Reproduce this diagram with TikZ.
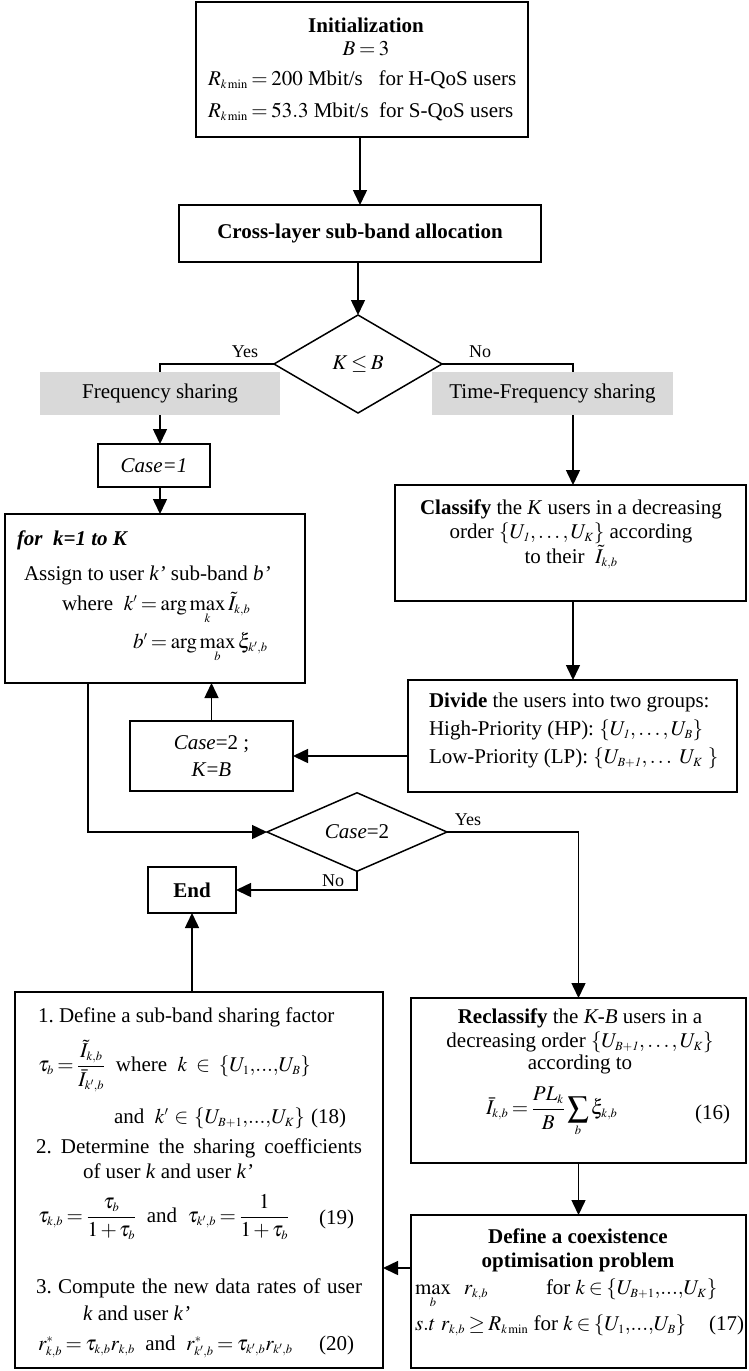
\documentclass[tikz,border=0pt]{standalone}
\usepackage{mathptmx}
\usepackage{fontspec}
\setmainfont{Liberation Serif}
\usetikzlibrary{arrows.meta,shapes.geometric}
\definecolor{greyfill}{HTML}{D9D9D9}
\DeclareMathSizes{21}{21}{12.5}{10}
\thickmuskip=3mu plus 2mu
\medmuskip=2mu plus 1mu
\frenchspacing
\begin{document}
\begin{tikzpicture}[x=1pt,y=-1pt,
  every node/.style={font=\fontsize{21}{25}\selectfont, inner sep=0pt, outer sep=0pt},
  box/.style={draw, line width=1.5pt, rectangle, inner sep=0pt},
  dbox/.style={draw, line width=1.5pt, diamond, inner sep=0pt},
  grey/.style={fill=greyfill, rectangle, inner sep=0pt},
  arr/.style={line width=1.5pt,-{Triangle[length=15pt,width=14pt]}},
  ln/.style={line width=1.5pt},
  lbl/.style={font=\fontsize{18}{21}\selectfont},
]
\useasboundingbox (0,0) rectangle (748,1371);

% ---------- top ----------
\node[box, minimum width=332pt, minimum height=135pt] (init) at (362,69.5) {};
\node[anchor=base] (ti1) at (366,32) {\textbf{Initialization}};
\node[anchor=base] (ti2) at (366,55) {$B = 3$};
\node[anchor=base west] (ti3) at (208,85) {$R_{k\,\mathrm{min}} = 200$ Mbit/s\ \ \ for H-QoS users};
\node[anchor=base west] (ti4) at (208,117) {$R_{k\,\mathrm{min}} = 53.3$ Mbit/s\ \ for S-QoS users};

\node[box, minimum width=362pt, minimum height=57pt] (cross) at (360,233.5) {\textbf{Cross-layer sub-band allocation}};
\draw[arr] (init.south -| cross.north) -- (cross.north);

\node[dbox, minimum width=168pt, minimum height=98pt] (dia1) at (358,364) {$K \le B$};
\draw[arr] (cross.south -| dia1.north) -- (dia1.north);

\node[grey, minimum width=240pt, minimum height=43pt] (fs) at (160,393.5) {Frequency sharing};
\node[grey, minimum width=241pt, minimum height=43pt] (tfs) at (552.5,393.5) {Time-Frequency sharing};
\coordinate (tfsN) at (573,372);
\coordinate (tfsS) at (573,415);
\draw[ln] (dia1.west) -| (fs.north);
\draw[ln] (dia1.east) -| (tfsN);
\node[lbl, anchor=base] (yes1) at (245,357) {Yes};
\node[lbl, anchor=base] (no1) at (480,357) {No};

% ---------- left branch ----------
\node[box, minimum width=112pt, minimum height=43pt] (case1) at (154,465.5) {\textit{Case=1}};
\draw[arr] (fs.south) -- (fs.south |- case1.north);

\node[box, minimum width=300pt, minimum height=169pt] (forb) at (155,598.5) {};
\draw[arr] (case1.south -| fs.south) -- (forb.north -| fs.south);
\node[anchor=base west] (f1) at (17,545) {\textbf{\textit{for\ \ k=1 to K}}};
\node[anchor=base west] (f2) at (24,580) {Assign to user \textit{k’} sub-band \textit{b’}};
\node[anchor=base west] (f3) at (62,610) {where\ \ $k' = \arg\max\limits_k \tilde{I}_{k,b}$};
\node[anchor=base west] (f4) at (133,648) {$b' = \arg\max\limits_b \xi_{k',b}$};

% ---------- right branch ----------
\node[box, minimum width=351pt, minimum height=116pt] (clas) at (570.5,543) {};
\draw[arr] (tfsS) -- (tfsS |- clas.north);
\node[anchor=base] (c1) at (571,514) {\textbf{Classify} the \textit{K} users in a decreasing};
\node[anchor=base] (c2) at (571,538) {order $\{U_{\mathit{1}}, \ldots, U_K\}$ according};
\node[anchor=base] (c3) at (571,563) {to their\ \ $\tilde{I}_{k,b}$};

\node[box, minimum width=329pt, minimum height=112pt] (div) at (572.5,736) {};
\draw[arr] (clas.south -| tfsS) -- (div.north -| tfsS);
\node[anchor=base west] (d1) at (429,707) {\textbf{Divide} the users into two groups:};
\node[anchor=base west] (d2) at (429,735) {High-Priority (HP): $\{U_{\mathit{1}}, \ldots, U_B\}$};
\node[anchor=base west] (d3) at (429,763) {Low-Priority (LP): $\{U_{B+\mathit{1}}, \ldots\ U_K\ \}$};

\node[box, minimum width=163pt, minimum height=70pt, align=center] (case2) at (211.5,756) {\textit{Case}=2 ;\\[2pt]\textit{K}=\textit{B}};
\draw[arr] (case2.north) -- (case2.north |- forb.south);
\draw[arr] (div.west |- case2.east) -- (case2.east);

% ---------- Case=2 decision ----------
\node[dbox, minimum width=180pt, minimum height=70pt] (dia2) at (357,832) {\textit{Case}=2};
\coordinate (fbs) at (88,683);
\draw[arr] (fbs) |- (dia2.west);

\node[box, minimum width=88pt, minimum height=46pt] (endb) at (192,890) {\textbf{End}};
\draw[arr] (dia2.south) |- (endb.east);
\node[lbl, anchor=base] (no2) at (333,886) {No};

\node[box, minimum width=335pt, minimum height=165pt] (recl) at (578.5,1080.5) {};
\draw[arr] (dia2.east) -| (recl.north);
\node[lbl, anchor=base] (yes2) at (468,825) {Yes};
\node[anchor=base] (r1) at (580,1023) {\textbf{Reclassify} the \textit{K-B} users in a};
\node[anchor=base] (r2) at (580,1047) {decreasing order $\{U_{B+\mathit{1}}, \ldots, U_K\}$};
\node[anchor=base] (r3) at (580,1069) {according to};
\node[anchor=west] (r4) at (486,1112) {$\bar{I}_{k,b} = \displaystyle\frac{PL_k}{B}\sum\limits_b \xi_{k,b}$};
\node[anchor=base east] (r5) at (730,1119) {(16)};

\node[box, minimum width=335pt, minimum height=153pt] (coex) at (578.5,1291.5) {};
\draw[arr] (recl.south) -- (coex.north);
\node[anchor=base] (x1) at (578,1243) {\textbf{Define a coexistence}};
\node[anchor=base] (x2) at (578,1267) {\textbf{optimisation problem}};
\node[anchor=base west] (x3) at (415,1294) {$\max\limits_b\ \ r_{k,b}$};
\node[anchor=base west] (x4) at (546,1294) {for $k \in \{U_{B+1}{,}...{,}U_K\}$};
\node[anchor=base west] (x5) at (415,1330) {$s.t\ r_{k,b} \ge R_{k\,\mathrm{min}}$ for $k\in\{U_1{,}...{,}U_B\}$};
\node[anchor=base east] (x6) at (744,1330) {(17)};

% ---------- bottom-left ----------
\node[box, minimum width=368pt, minimum height=376pt] (bl) at (199,1180) {};
\draw[arr] (endb.south |- bl.north) -- (endb.south);
\draw[arr] ([yshift=23.5pt]coex.west) -- ([yshift=23.5pt]coex.west -| bl.east);

\node[anchor=base west] (b1) at (38,1022) {1. Define a sub-band sharing factor};
\node[anchor=west] (b2) at (38,1066) {$\tau_b = \displaystyle\frac{\tilde I_{k,b}}{\bar I_{k',b}}$\ \ where\ \ $k\ \in\ \{U_1{,}...{,}U_B\}$};
\node[anchor=base west] (b3) at (114,1123) {and\ \ $k'\,\in\,\{U_{B+1}{,}...{,}U_K\}$};
\node[anchor=base east] (b3n) at (346,1123) {(18)};
\node[anchor=base west] (b4) at (36,1153) {\makebox[326pt][s]{2. Determine the sharing coefficients}};
\node[anchor=base west] (b5) at (83,1178) {of user \textit{k} and user \textit{k’}};
\node[anchor=west] (b6) at (38,1217) {$\tau_{k,b} = \displaystyle\frac{\tau_b}{1+\tau_b}$\ \ and\ \ $\tau_{k',b} = \displaystyle\frac{1}{1+\tau_b}$};
\node[anchor=base east] (b6n) at (354,1224) {(19)};
\node[anchor=base west] (b7) at (36,1293) {\makebox[326pt][s]{3. Compute the new data rates of user}};
\node[anchor=base west] (b8) at (83,1320) {\textit{k} and user \textit{k’}};
\node[anchor=base west] (b9) at (38,1350) {$r^*_{k,b} = \tau_{k,b} r_{k,b}$\ \ and\ \ $r^*_{k',b} = \tau_{k',b} r_{k',b}$};
\node[anchor=base east] (b9n) at (354,1350) {(20)};
\end{tikzpicture}
\end{document}
